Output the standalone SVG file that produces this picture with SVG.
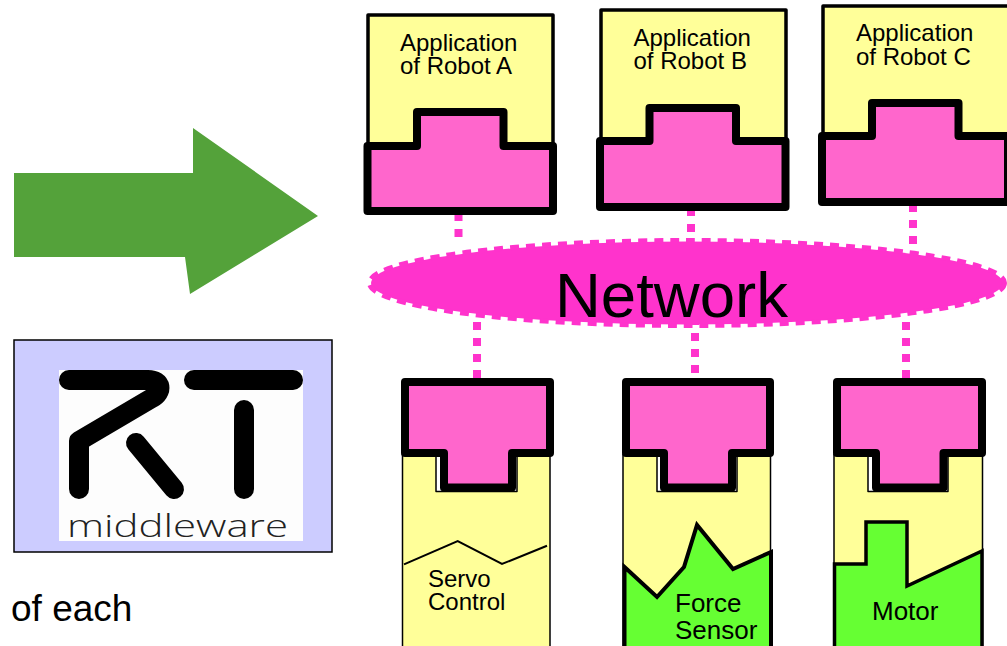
<svg xmlns="http://www.w3.org/2000/svg" width="1007" height="646" viewBox="0 0 1007 646">
<style>
text{font-family:"Liberation Sans",Arial,sans-serif;fill:#000}
.lbl{font-size:24px}
.big{font-size:26px}
.app{fill:#ffff99;stroke:#000;stroke-width:3.5;stroke-linejoin:round}
.port{fill:#ff66cc;stroke:#000;stroke-width:8;stroke-linejoin:round}
.dev{fill:#ffff99;stroke:#000;stroke-width:1.5;stroke-linejoin:round}
.hw{fill:#66ff33;stroke:#000;stroke-width:4;stroke-linejoin:miter}
.dot{fill:none;stroke:#ff33cc;stroke-width:8;stroke-dasharray:8 8}
.logo{fill:none;stroke:#000;stroke-width:20;stroke-linecap:round;stroke-linejoin:round}
</style>
<rect width="1007" height="646" fill="#fff"/>
<g id="arrow"><polygon points="14,173 193,173 193,128 318,216 190,294 185,257 14,257" fill="#54a23a"/></g>
<g id="rt-logo">
<rect x="14" y="340" width="318" height="212" fill="#ccccff" stroke="#000" stroke-width="1.5"/>
<rect x="59" y="370" width="244" height="171" fill="#fdfdfd"/>
<path class="logo" d="M69 380H148C162 380 163 392 152 398L79 441V489"/>
<path class="logo" d="M136 443L174 489"/>
<path class="logo" d="M194 380H293"/>
<path class="logo" d="M244 410V489"/>
<text x="67" y="537" textLength="221" lengthAdjust="spacingAndGlyphs" style="fill:#222;font-family:'Open Sans','Liberation Sans',sans-serif;font-weight:300;font-size:32px">middleware</text>
</g>
<g id="caption"><text x="11" y="621" font-size="37">of each</text></g>
<g id="connectors">
<path class="dot" d="M458.500 213V245"/>
<path class="dot" d="M691 208V240"/>
<path class="dot" d="M913 204V252"/>
<path class="dot" d="M477 322V378"/>
<path class="dot" d="M695 317V373"/>
<path class="dot" d="M906 322V378"/>
</g>
<g id="network">
<ellipse cx="687" cy="283" rx="316" ry="41.500" fill="#ff33cc"/>
<ellipse cx="687" cy="283" rx="317.500" ry="42.500" fill="none" stroke="#ff33cc" stroke-width="5" stroke-dasharray="9 7"/>
<text x="555" y="317" font-size="63.500">Network</text>
</g>
<g id="robot-a">
<rect class="app" x="368" y="15" width="185" height="135"/>
<path class="port" d="M367.500 146H417V112H503.500V146H553V211H367.500Z"/>
<text class="lbl" x="400" y="51">Application</text>
<text class="lbl" x="400" y="74">of Robot A</text>
</g>
<g id="robot-b">
<rect class="app" x="601" y="10" width="185" height="135"/>
<path class="port" d="M600 141H649.500V108H736V141H785.500V207H600Z"/>
<text class="lbl" x="633.500" y="46">Application</text>
<text class="lbl" x="633.500" y="69">of Robot B</text>
</g>
<g id="robot-c">
<rect class="app" x="823" y="6" width="190" height="135"/>
<path class="port" d="M822 136H872V103H958.500V136H1008V202H822Z"/>
<text class="lbl" x="856" y="41">Application</text>
<text class="lbl" x="856" y="65">of Robot C</text>
</g>
<g id="servo">
<path class="dev" d="M402.500 454H436V491.500H517V454H550V650H402.500Z"/>
<path class="port" d="M405 382H550V453H512V487.500H444V453H405Z"/>
<polyline points="404,564.300 457.700,541 502,564 547,545.700" fill="none" stroke="#000" stroke-width="2"/>
<text class="lbl" x="428" y="587">Servo</text>
<text class="lbl" x="428" y="610">Control</text>
</g>
<g id="force-sensor">
<path class="dev" d="M623 454H657V491.500H737V454H770.500V650H623Z"/>
<path class="port" d="M626 382H770V453H732V487.500H664V453H626Z"/>
<polygon class="hw" points="624.500,567 657,597 684,567 697,525 733,569 771,552 771,655 624.500,655"/>
<text class="big" x="675" y="612">Force</text>
<text class="big" x="675" y="639">Sensor</text>
</g>
<g id="motor">
<path class="dev" d="M834 454H868V491.500H948V454H982.500V650H834Z"/>
<path class="port" d="M837 382H982V453H943.500V487.500H876V453H837Z"/>
<polygon class="hw" style="stroke-width:3.500" points="834.500,564 866,564 866,522 907,522 907,586 982,551 982,655 834.500,655"/>
<text class="big" x="872" y="620">Motor</text>
</g>
</svg>
